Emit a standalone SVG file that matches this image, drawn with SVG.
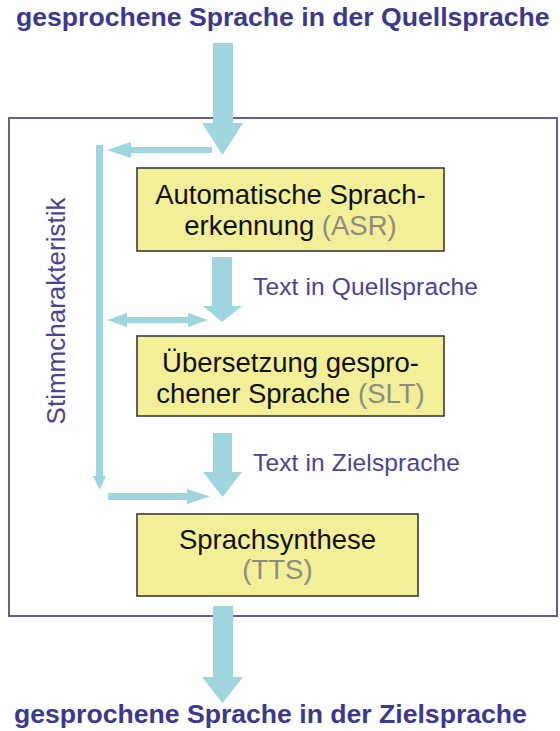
<svg xmlns="http://www.w3.org/2000/svg" width="560" height="731" viewBox="0 0 560 731">
<style>
.title{font-family:"Liberation Sans",Arial,sans-serif;font-weight:bold;font-size:26.6px;fill:#3b3890;}
.lbl{font-family:"Liberation Sans",Arial,sans-serif;font-size:24.5px;fill:#4b4296;}
.box{fill:#f3ef98;stroke:#3a3a3a;stroke-width:1.6;}
.bt{font-family:"Liberation Sans",Arial,sans-serif;font-size:27.5px;fill:#111;text-anchor:middle;}
.ab{fill:#8d8c80;}
.arr{fill:#9fd5df;}
.frame{fill:none;stroke:#6b5b9e;stroke-width:2;}
</style>
<rect width="560" height="731" fill="#ffffff"/>
<rect id="frame" class="frame" x="9" y="118" width="548" height="498"/>
<text id="title-top" class="title" x="16" y="26">gesprochene Sprache in der Quellsprache</text>
<text id="title-bottom" class="title" x="14" y="723">gesprochene Sprache in der Zielsprache</text>
<text id="stimm" class="lbl" transform="translate(65,311) rotate(-90)" text-anchor="middle" style="font-size:26px">Stimmcharakteristik</text>
<g id="asr">
<rect class="box" x="137" y="168" width="307" height="83"/>
<text class="bt" x="290.5" y="204">Automatische Sprach-</text>
<text class="bt" x="290.5" y="235">erkennung <tspan class="ab">(ASR)</tspan></text>
</g>
<g id="slt">
<rect class="box" x="137" y="336" width="307" height="80"/>
<text class="bt" x="290.5" y="372">Übersetzung gespro-</text>
<text class="bt" x="290.5" y="403">chener Sprache <tspan class="ab">(SLT)</tspan></text>
</g>
<g id="tts">
<rect class="box" x="137" y="514" width="281" height="82"/>
<text class="bt" x="277.5" y="549">Sprachsynthese</text>
<text class="bt" x="277.5" y="579"><tspan class="ab">(TTS)</tspan></text>
</g>
<g id="connectors">
<path class="arr" d="M213,43 H233 V123 H243 L222.5,155 L202,123 H213 Z"/>
<path class="arr" d="M212,147 V153 H131 V158 L107,150 L131,142 V147 Z"/>
<path class="arr" d="M96,145 H103 V476 H106 L99.5,490 L93,476 H96 Z"/>
<path class="arr" d="M212,257 H232 V306 H242 L222,322 L203,306 H212 Z"/>
<path class="arr" d="M127,317 H188 V313 L208,320 L188,327 V323 H127 V327 L107,320 L127,313 Z"/>
<path class="arr" d="M213,433 H232 V472 H242 L222.5,497 L203,472 H213 Z"/>
<path class="arr" d="M108,493 H187 V489 L210,496.5 L187,504 V500 H108 Z"/>
<path class="arr" d="M213,606 H233 V677 H243 L222.5,703 L202,677 H213 Z"/>
</g>
<text id="lbl-q" class="lbl" x="253" y="295" textLength="225">Text in Quellsprache</text>
<text id="lbl-z" class="lbl" x="253" y="471" textLength="207">Text in Zielsprache</text>
</svg>
